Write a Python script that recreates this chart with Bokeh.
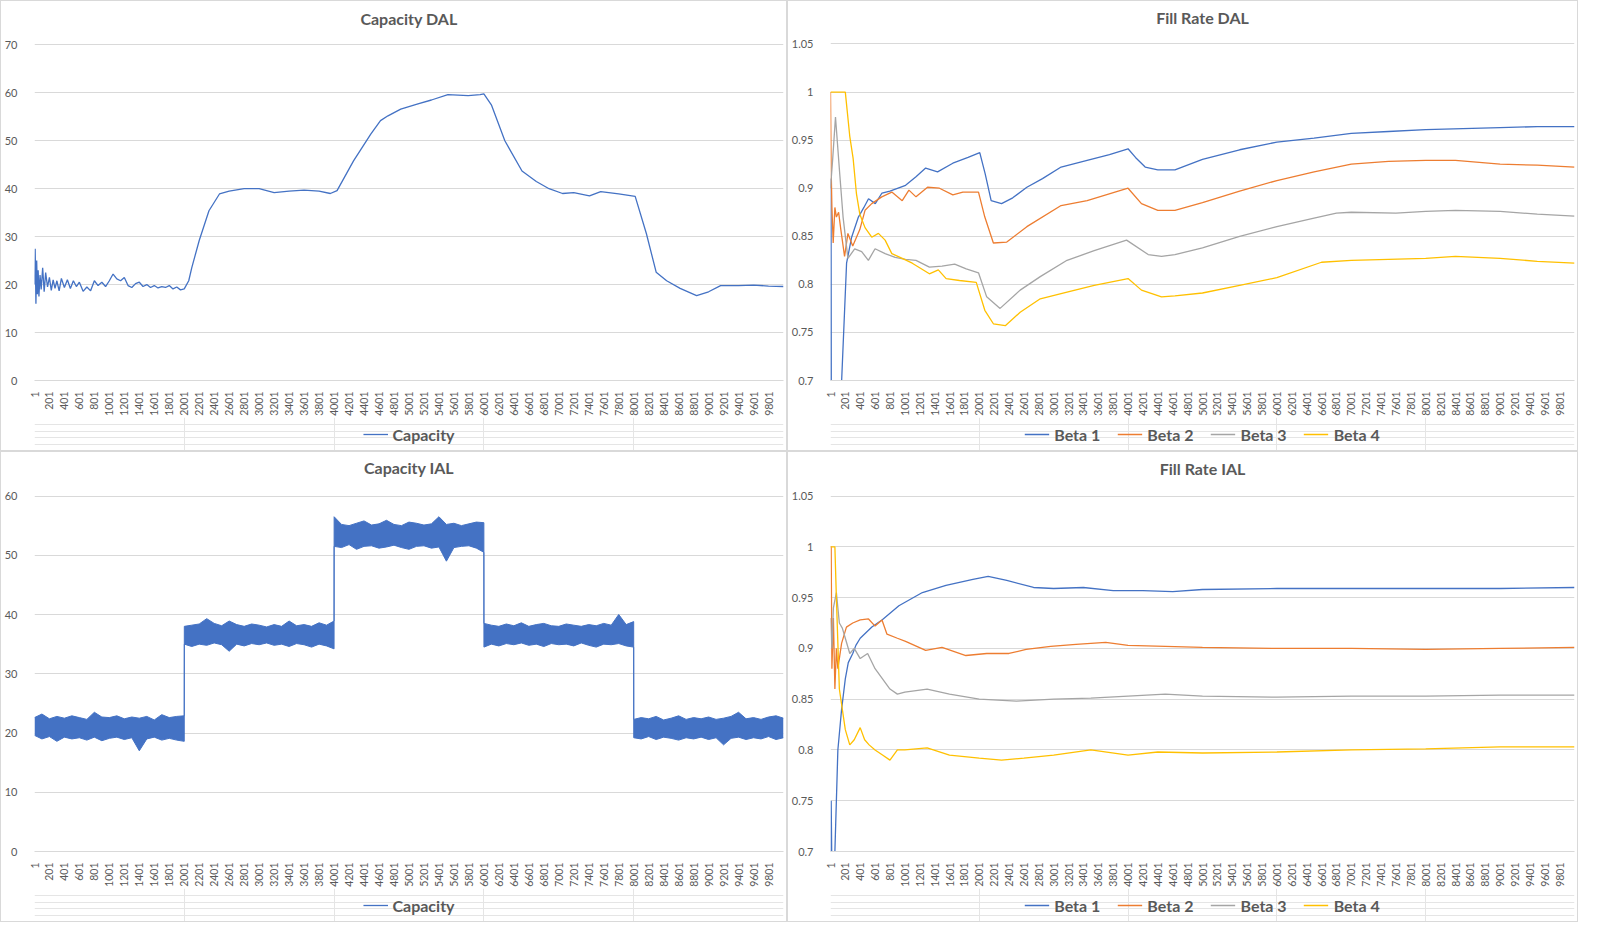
import math
from bokeh.plotting import figure
from bokeh.models import DataRange1d, Range1d, FixedTicker, NumeralTickFormatter, Legend, LegendItem, Label
from bokeh.layouts import column, row
from bokeh.embed import file_html
from bokeh.resources import INLINE

# ---------------- data ----------------
x_ticks = [1, 201, 401, 601, 801, 1001, 1201, 1401, 1601, 1801, 2001, 2201, 2401, 2601, 2801,
           3001, 3201, 3401, 3601, 3801, 4001, 4201, 4401, 4601, 4801, 5001, 5201, 5401, 5601,
           5801, 6001, 6201, 6401, 6601, 6801, 7001, 7201, 7401, 7601, 7801, 8001, 8201, 8401,
           8601, 8801, 9001, 9201, 9401, 9601, 9801]

# Capacity DAL
cap_dal_x = [1, 10, 20, 30, 40, 50, 60, 75, 90, 110, 130, 150, 175, 200, 225, 250, 275, 300, 330, 360,
             400, 440, 480, 520, 560, 600, 650, 700, 750, 800, 850, 900, 950, 1000, 1050, 1100, 1150,
             1200, 1250, 1300, 1350, 1400, 1450, 1500, 1550, 1600, 1650, 1700, 1750, 1800, 1850, 1900,
             1950, 2000, 2060, 2100, 2200, 2330, 2470, 2600, 2800, 3000, 3200, 3400, 3600, 3800, 3950,
             4040, 4260, 4490, 4620, 4720, 4890, 5120, 5300, 5520, 5790, 5950, 6000, 6100, 6280, 6509,
             6700, 6870, 7050, 7200, 7410, 7560, 7800, 8020, 8170, 8300, 8440, 8620, 8840, 9000, 9160,
             9400, 9600, 9800, 10000]
cap_dal = [20, 27.5, 16, 25, 18, 23, 17.5, 22, 19, 23.5, 18.5, 22.5, 19.5, 21.5, 18.8, 21, 19.2, 20.8,
           18.7, 21.3, 19.4, 21, 19.2, 20.8, 19.6, 20.5, 18.6, 19.5, 18.7, 20.8, 19.8, 20.5, 19.6, 20.8,
           22.2, 21.2, 20.8, 21.5, 19.8, 19.4, 20.2, 20.5, 19.6, 20, 19.4, 19.8, 19.3, 19.6, 19.4, 19.8,
           19.1, 19.5, 18.9, 19.1, 20.8, 23.5, 29.2, 35.4, 38.9, 39.5, 40, 40, 39.2, 39.5, 39.7, 39.5,
           39.0, 39.6, 45.8, 51.4, 54.2, 55.2, 56.6, 57.7, 58.5, 59.6, 59.4, 59.6, 59.8, 57.5, 50, 43.7,
           41.5, 40, 39, 39.2, 38.5, 39.4, 38.9, 38.4, 30.6, 22.6, 20.8, 19.2, 17.7, 18.5, 19.8, 19.8,
           19.9, 19.7, 19.6]

# Fill Rate DAL
fr_dal_b1_x = [1, 8, 15, 140, 217, 285, 376, 450, 512, 603, 693, 800, 1010, 1150, 1280, 1440, 1645, 1850,
               2007, 2080, 2160, 2300, 2450, 2640, 2850, 3100, 3450, 3750, 4000, 4100, 4230, 4400, 4630,
               5000, 5500, 6000, 6500, 7000, 7500, 8000, 8500, 9000, 9500, 10000]
fr_dal_b1 = [0.0, 0.91, 0.5, 0.68, 0.822, 0.849, 0.870, 0.880, 0.889, 0.884, 0.895, 0.897, 0.903, 0.912,
             0.921, 0.917, 0.926, 0.932, 0.937, 0.915, 0.887, 0.884, 0.890, 0.901, 0.910, 0.922, 0.929,
             0.935, 0.941, 0.932, 0.922, 0.919, 0.919, 0.930, 0.940, 0.948, 0.952, 0.957, 0.959, 0.961,
             0.962, 0.963, 0.964, 0.964]
fr_dal_b2_x = [1, 10, 20, 37, 60, 80, 110, 140, 190, 235, 300, 395, 465, 555, 690, 825, 965, 1055, 1150,
               1305, 1465, 1645, 1780, 1990, 2075, 2190, 2370, 2640, 3100, 3450, 4000, 4180, 4400, 4630,
               5000, 5500, 6000, 6500, 7000, 7500, 8000, 8400, 9000, 9500, 10000]
fr_dal_b2 = [1.0, 0.92, 0.88, 0.843, 0.88, 0.87, 0.875, 0.857, 0.829, 0.853, 0.84, 0.857, 0.877, 0.884,
             0.891, 0.896, 0.887, 0.898, 0.891, 0.901, 0.900, 0.893, 0.896, 0.896, 0.87, 0.843, 0.844,
             0.86, 0.882, 0.887, 0.900, 0.884, 0.877, 0.877, 0.885, 0.897, 0.908, 0.917, 0.925, 0.928,
             0.929, 0.929, 0.925, 0.924, 0.922]
fr_dal_b3_x = [1, 30, 68, 125, 170, 235, 326, 420, 510, 600, 735, 870, 1010, 1150, 1330, 1500, 1670, 1825,
               1990, 2100, 2280, 2550, 2820, 3180, 3545, 3980, 4270, 4450, 4630, 5000, 5500, 6000, 6500,
               6800, 7000, 7600, 8000, 8400, 9000, 9500, 10000]
fr_dal_b3 = [0.9, 0.93, 0.974, 0.915, 0.87, 0.827, 0.837, 0.834, 0.825, 0.837, 0.832, 0.828, 0.826, 0.825,
             0.818, 0.819, 0.821, 0.816, 0.812, 0.787, 0.775, 0.794, 0.808, 0.825, 0.835, 0.846, 0.831,
             0.829, 0.831, 0.838, 0.850, 0.860, 0.869, 0.874, 0.875, 0.874, 0.876, 0.877, 0.876, 0.873,
             0.871]
fr_dal_b4_x = [1, 200, 260, 305, 350, 395, 465, 555, 645, 735, 825, 965, 1100, 1330, 1450, 1555, 1735,
               1960, 2075, 2190, 2350, 2550, 2820, 3180, 3545, 4000, 4180, 4450, 4630, 5000, 5500, 6000,
               6600, 7000, 7500, 8000, 8400, 9000, 9500, 10000]
fr_dal_b4 = [1.0, 1.0, 0.954, 0.931, 0.894, 0.873, 0.859, 0.849, 0.853, 0.846, 0.832, 0.827, 0.822, 0.811,
             0.815, 0.806, 0.804, 0.802, 0.773, 0.759, 0.757, 0.771, 0.785, 0.792, 0.799, 0.806, 0.794,
             0.787, 0.788, 0.791, 0.799, 0.807, 0.823, 0.825, 0.826, 0.827, 0.829, 0.827, 0.824, 0.822]

# Capacity IAL (noise band: lower / upper envelope)
cap_ial_x = [1, 100, 200, 300, 400, 500, 600, 700, 800, 900, 1000, 1100, 1200, 1300, 1400, 1500, 1600,
             1700, 1800, 1900, 2000,
             2001, 2100, 2200, 2300, 2400, 2500, 2600, 2700, 2800, 2900, 3000, 3100, 3200, 3300, 3400,
             3500, 3600, 3700, 3800, 3900, 4000,
             4001, 4100, 4200, 4300, 4400, 4500, 4600, 4700, 4800, 4900, 5000, 5100, 5200, 5300, 5400,
             5500, 5600, 5700, 5800, 5900, 6000,
             6001, 6100, 6200, 6300, 6400, 6500, 6600, 6700, 6800, 6900, 7000, 7100, 7200, 7300, 7400,
             7500, 7600, 7700, 7800, 7900, 8000,
             8001, 8100, 8200, 8300, 8400, 8500, 8600, 8700, 8800, 8900, 9000, 9100, 9200, 9300, 9400,
             9500, 9600, 9700, 9800, 9900, 10000]
cap_ial_lo = [19.6, 19.0, 19.4, 18.6, 19.3, 19.0, 19.2, 18.8, 19.3, 18.7, 19.1, 19.3, 18.9, 19.2, 17.0,
              19.0, 19.3, 18.8, 19.1, 18.8, 18.6,
              35.0, 34.6, 35.0, 34.8, 35.2, 34.9, 33.8, 35.0, 34.7, 35.1, 34.9, 35.2, 34.8, 35.0, 34.6,
              35.1, 34.9, 34.5, 35.0, 34.7, 34.2,
              51.5, 51.3, 51.8, 51.0, 51.5, 51.6, 51.2, 51.4, 51.7, 51.3, 51.0, 51.5, 51.6, 51.2, 51.4,
              49.0, 51.3, 51.5, 51.6, 51.2, 50.5,
              34.5, 35.0, 34.7, 35.1, 34.9, 35.2, 34.8, 35.0, 34.6, 35.1, 34.9, 35.0, 34.7, 35.2, 34.8,
              34.5, 35.0, 34.9, 35.1, 34.7, 34.5,
              19.2, 19.0, 19.4, 18.9, 19.3, 19.1, 18.8, 19.2, 19.0, 19.3, 18.9, 19.2, 18.0, 19.1, 19.3,
              18.9, 19.2, 19.0, 19.4, 18.9, 19.2]
cap_ial_hi = [22.6, 23.2, 22.4, 22.8, 22.5, 22.9, 22.6, 22.3, 23.5, 22.7, 22.6, 22.9, 22.4, 22.7, 22.5,
              22.8, 22.2, 23.1, 22.6, 22.8, 22.9,
              38.0, 38.2, 38.4, 39.3, 38.5, 38.1, 38.9, 38.3, 38.0, 38.4, 38.2, 37.9, 38.3, 38.0, 38.9,
              38.1, 38.3, 38.0, 38.6, 38.2, 38.9,
              56.5, 55.2, 55.0, 55.4, 55.8, 55.1, 55.3, 55.9, 55.2, 55.0, 55.6, 55.4, 55.1, 55.3, 56.5,
              55.2, 55.4, 55.0, 55.3, 55.6, 55.5,
              38.5, 38.2, 38.0, 38.4, 38.1, 38.6, 38.0, 38.3, 38.5, 38.1, 38.0, 38.4, 38.2, 38.0, 38.3,
              38.1, 38.5, 38.2, 40.0, 38.3, 38.8,
              22.3, 22.6, 22.4, 22.8, 22.2, 22.5, 22.9, 22.3, 22.6, 22.4, 22.7, 22.3, 22.5, 22.8, 23.5,
              22.4, 22.6, 22.3, 22.7, 22.9, 22.5]

# Fill Rate IAL
fr_ial_b1_x = [1, 10, 20, 60, 100, 150, 200, 240, 300, 342, 400, 557, 693, 920, 1236, 1553, 1915, 2120,
               2370, 2730, 3000, 3400, 3800, 4200, 4600, 5000, 6000, 7000, 8000, 9000, 10000]
fr_ial_b1 = [0.0, 0.75, 0.68, 0.70, 0.80, 0.84, 0.87, 0.886, 0.895, 0.903, 0.91, 0.921, 0.928, 0.942,
             0.955, 0.962, 0.968, 0.971, 0.967, 0.960, 0.959, 0.960, 0.957, 0.957, 0.956, 0.958, 0.959,
             0.959, 0.959, 0.959, 0.960]
fr_ial_b2_x = [1, 10, 20, 40, 60, 80, 100, 150, 215, 300, 400, 512, 600, 693, 760, 900, 1010, 1280, 1500,
               1820, 2100, 2400, 2630, 2960, 3300, 3700, 4000, 4500, 5000, 6000, 7000, 8000, 9000, 10000]
fr_ial_b2 = [1.0, 1.0, 0.88, 0.93, 0.86, 0.90, 0.88, 0.905, 0.921, 0.925, 0.928, 0.929, 0.922, 0.928,
             0.914, 0.91, 0.907, 0.898, 0.901, 0.893, 0.895, 0.895, 0.899, 0.902, 0.904, 0.906, 0.903,
             0.902, 0.901, 0.900, 0.900, 0.899, 0.900, 0.901]
fr_ial_b3_x = [1, 20, 40, 80, 120, 160, 200, 260, 320, 400, 500, 600, 700, 800, 900, 1000, 1300, 1600,
               2000, 2500, 3000, 3500, 4000, 4500, 5000, 6000, 7000, 8000, 9000, 10000]
fr_ial_b3 = [0.93, 0.90, 0.94, 0.955, 0.925, 0.92, 0.91, 0.895, 0.90, 0.89, 0.895, 0.88, 0.87, 0.86, 0.855,
             0.857, 0.86, 0.855, 0.85, 0.848, 0.85, 0.851, 0.853, 0.855, 0.853, 0.852, 0.853, 0.853, 0.854,
             0.854]
fr_ial_b4_x = [1, 60, 80, 120, 160, 200, 260, 320, 400, 460, 520, 600, 700, 800, 900, 1000, 1300, 1600,
               2000, 2300, 2600, 3000, 3500, 4000, 4400, 5000, 6000, 7000, 8000, 9000, 10000]
fr_ial_b4 = [1.0, 1.0, 0.95, 0.86, 0.84, 0.82, 0.805, 0.81, 0.822, 0.81, 0.805, 0.80, 0.795, 0.79, 0.80,
             0.80, 0.802, 0.795, 0.792, 0.79, 0.792, 0.795, 0.80, 0.795, 0.798, 0.797, 0.798, 0.80, 0.801,
             0.803, 0.803]

cap_ticks = [0, 10, 20, 30, 40, 50, 60, 70]
cap_ial_ticks = [0, 10, 20, 30, 40, 50, 60]
fr_ticks = [0.7, 0.75, 0.8, 0.85, 0.9, 0.95, 1.0, 1.05]

beta_labels = ["Beta 1", "Beta 2", "Beta 3", "Beta 4"]
beta_colors = ["#4472C4", "#ED7D31", "#A5A5A5", "#FFC000"]

TXT = "#595959"
GRID = "#d9d9d9"
FONT = "Lato"
BORDER_CHART = {"border": "1px solid #d9d9d9", "border-bottom": "none"}
BORDER_LEG = {"border": "1px solid #d9d9d9", "border-top": "none"}


def make_chart(w, h, title, ymin, ymax, title_y, yticks, fr=False):
    p = figure(width=w, height=h, output_backend="svg", toolbar_location=None,
               x_range=DataRange1d(range_padding=0),
               y_range=DataRange1d(start=ymin, end=ymax))
    p.outline_line_color = None
    p.xgrid.grid_line_color = None
    p.ygrid.grid_line_color = GRID
    p.xaxis.ticker = FixedTicker(ticks=x_ticks)
    p.xaxis.major_label_orientation = math.pi / 2
    p.xaxis.major_tick_line_color = None
    p.xaxis.minor_tick_line_color = None
    p.xaxis.axis_line_color = GRID
    p.xaxis.major_label_text_font = FONT
    p.xaxis.major_label_text_font_size = "10.5px"
    p.xaxis.major_label_text_color = TXT
    p.xaxis.major_label_standoff = 5
    p.yaxis.ticker = FixedTicker(ticks=yticks)
    p.yaxis.axis_line_color = None
    p.yaxis.major_tick_line_color = None
    p.yaxis.minor_tick_line_color = None
    p.yaxis.major_label_text_font = FONT
    p.yaxis.major_label_text_font_size = "11px"
    p.yaxis.major_label_text_color = TXT
    p.yaxis.major_label_standoff = 11
    if fr:
        p.yaxis.formatter = NumeralTickFormatter(format="0.[00]")
    p.add_layout(Label(x=5000.5, y=title_y, text=title, text_align="center", text_baseline="middle",
                       text_font=FONT, text_font_size="16px", text_font_style="bold",
                       text_color=TXT))
    p.styles = BORDER_CHART
    return p


def make_legend(w, labels, colors):
    q = figure(width=w, height=34, output_backend="svg", toolbar_location=None,
               x_axis_location=None, y_axis_location=None, min_border=0,
               x_range=Range1d(0, 1), y_range=Range1d(0, 1))
    q.outline_line_color = None
    items = []
    for lab, col in zip(labels, colors):
        # swatch renderer kept outside the visible range; only its legend sample is seen
        rr = q.line([0, 1], [5, 5], line_color=col, line_width=1.3)
        items.append(LegendItem(label=lab, renderers=[rr]))
    leg = Legend(items=items, orientation="horizontal", location="center",
                 border_line_color=None, background_fill_alpha=0,
                 label_text_font=FONT, label_text_font_size="16px", label_text_font_style="bold",
                 label_text_color=TXT, glyph_width=25, label_standoff=5, spacing=17,
                 padding=0, margin=0)
    q.add_layout(leg)
    q.styles = BORDER_LEG
    return q


# Capacity DAL
p1 = make_chart(787, 417, "Capacity DAL", 0, 78, 75.4, cap_ticks)
p1.line(cap_dal_x, cap_dal, line_color="#4472C4", line_width=1.3)
l1 = make_legend(787, ["Capacity"], ["#4472C4"])

# Fill Rate DAL
p2 = make_chart(791, 417, "Fill Rate DAL", 0.7, 1.089, 1.078, fr_ticks, fr=True)
for col, xs, ys in zip(beta_colors, [fr_dal_b1_x, fr_dal_b2_x, fr_dal_b3_x, fr_dal_b4_x],
                       [fr_dal_b1, fr_dal_b2, fr_dal_b3, fr_dal_b4]):
    p2.line(xs, ys, line_color=col, line_width=1.3)
l2 = make_legend(791, beta_labels, beta_colors)

# Capacity IAL
p3 = make_chart(787, 437, "Capacity IAL", 0, 66.5, 64.8, cap_ial_ticks)
p3.varea(x=cap_ial_x, y1=cap_ial_lo, y2=cap_ial_hi, fill_color="#4472C4")
p3.line(cap_ial_x, cap_ial_lo, line_color="#4472C4", line_width=1)
p3.line(cap_ial_x, cap_ial_hi, line_color="#4472C4", line_width=1)
l3 = make_legend(787, ["Capacity"], ["#4472C4"])

# Fill Rate IAL
p4 = make_chart(791, 437, "Fill Rate IAL", 0.7, 1.088, 1.077, fr_ticks, fr=True)
for col, xs, ys in zip(beta_colors, [fr_ial_b1_x, fr_ial_b2_x, fr_ial_b3_x, fr_ial_b4_x],
                       [fr_ial_b1, fr_ial_b2, fr_ial_b3, fr_ial_b4]):
    p4.line(xs, ys, line_color=col, line_width=1.3)
l4 = make_legend(791, beta_labels, beta_colors)

layout = column(row(column(p1, l1), column(p2, l2)), row(column(p3, l3), column(p4, l4)))
open("out.html", "w").write(file_html(layout, INLINE))
